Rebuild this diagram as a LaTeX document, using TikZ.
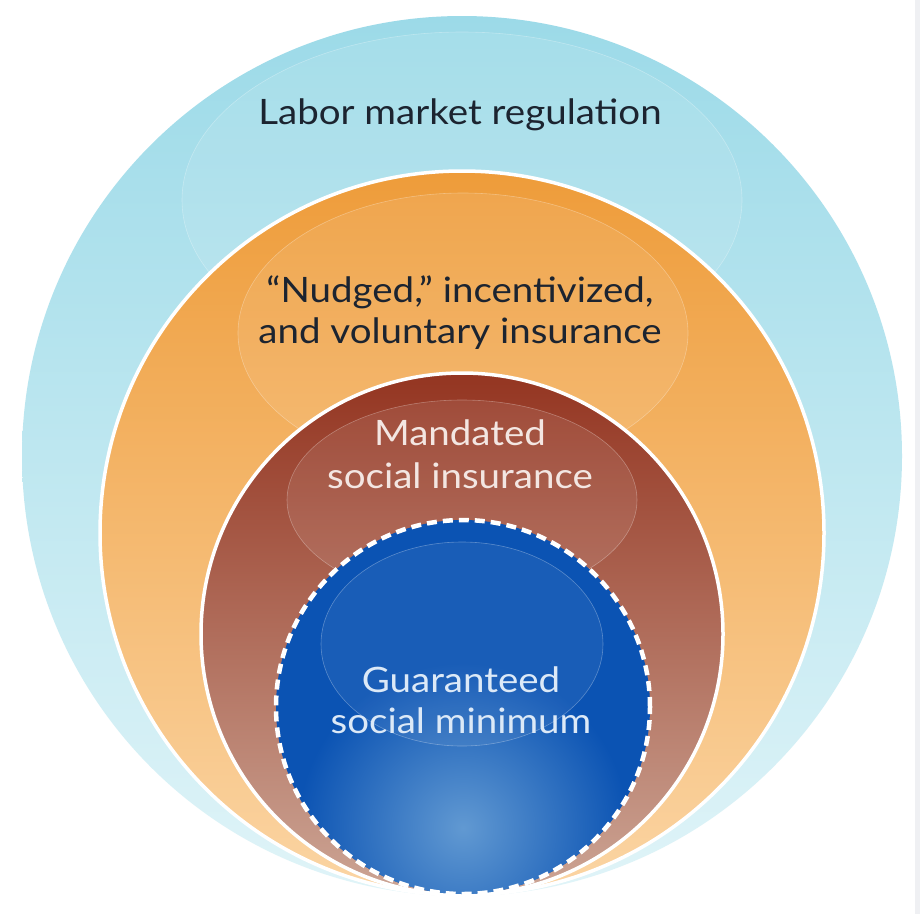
\documentclass[tikz,border=0pt]{standalone}
\usepackage{fontspec}
\setmainfont[FakeStretch=1.1]{Lato}
\definecolor{lbTop}{HTML}{9CDAE8}
\definecolor{lbBot}{HTML}{E0F4F8}
\definecolor{orTop}{HTML}{EE9C3A}
\definecolor{orBot}{HTML}{FBD5A4}
\definecolor{brTop}{HTML}{943521}
\definecolor{brBot}{HTML}{CCA595}
\definecolor{blBase}{HTML}{0B53B3}
\definecolor{blSpot}{HTML}{6199D2}
\definecolor{txtDark}{HTML}{1C2430}
\definecolor{txtMand}{HTML}{F3E6E2}
\definecolor{txtGuar}{HTML}{DCE9F7}
\definecolor{stripGray}{HTML}{EFF0F3}
\tikzset{
  ring/.style={draw=white, line width=3.5pt},
  gloss/.style={fill=white, fill opacity=0.09, draw=white, draw opacity=0.3, line width=0.6pt},
  label/.style={anchor=base, inner sep=0pt, font=\fontsize{35}{42}\selectfont},
}
\begin{document}
\begin{tikzpicture}[x=1pt,y=-1pt]
\useasboundingbox (0,0) rectangle (920,914);
\fill[white] (0,0) rectangle (920,914);
\fill[stripGray] (915,0) rectangle (920,914);

% outer ring: labor market regulation
\shade[top color=lbTop, bottom color=lbBot] (462,456) circle[radius=440pt];
\path[gloss] (462,200) ellipse[x radius=280pt, y radius=168pt];

% orange ring
\shadedraw[ring, top color=orTop, bottom color=orBot] (462,533) circle[radius=362pt];
\path[gloss] (463,333) ellipse[x radius=225pt, y radius=140pt];

% brown ring
\shadedraw[ring, top color=brTop, bottom color=brBot] (462,634) circle[radius=261pt];
\path[gloss] (462,500) ellipse[x radius=175pt, y radius=100pt];

% blue core
\fill[blBase] (463,707) circle[radius=187pt];
\begin{scope}
  \clip (463,707) circle[radius=187pt];
  \shade[inner color=blSpot, outer color=blBase] (463,828) circle[radius=165pt];
\end{scope}
\path[gloss, fill opacity=0.06] (462,644) ellipse[x radius=141pt, y radius=102pt];
\draw[white, line width=4.5pt, dash pattern=on 10pt off 6pt] (463,707) circle[radius=187pt];

% labels
\node[label, text=txtDark] (labor) at (460,124) {Labor market regulation};
\node[label, text=txtDark] (nudge1) at (460,302) {“Nudged,” incentivized,};
\node[label, text=txtDark] (nudge2) at (460,343) {and voluntary insurance};
\node[label, text=txtMand] (mand1) at (460,445) {Mandated};
\node[label, text=txtMand] (mand2) at (460,488) {social insurance};
\node[label, text=txtGuar] (guar1) at (461,692) {Guaranteed};
\node[label, text=txtGuar] (guar2) at (461,733) {social minimum};
\end{tikzpicture}
\end{document}
